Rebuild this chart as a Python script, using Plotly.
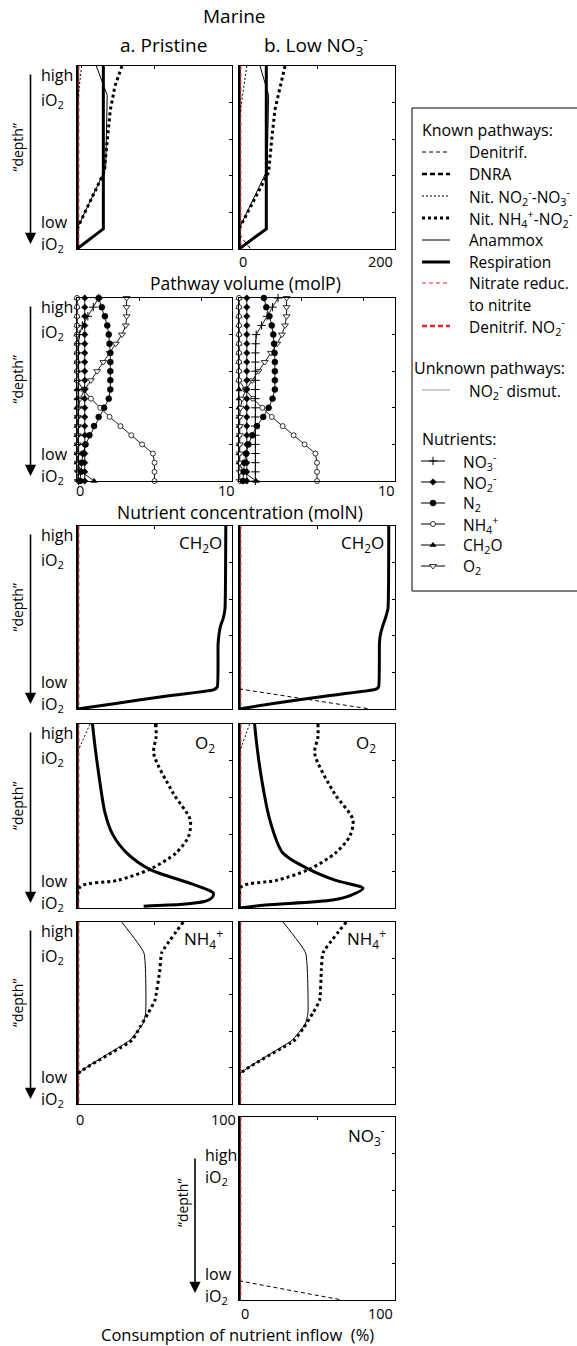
import plotly.graph_objects as go

W, H = 577, 1346

# ---------------- data ----------------
# depth coordinate: 0 = high iO2 (top), 1 = low iO2 (bottom)
# Row 1: pathway volume (molP)
r1a_resp_d = [0, 0.89, 1.0];                        r1a_resp_v = [34, 34, 0]
r1a_anam_d = [0, 0.16, 0.56, 0.89, 1.0];            r1a_anam_v = [25, 39, 37, 0, 0]
r1a_nh4no2_d = [0, 0.11, 0.24, 0.40, 0.58, 0.89, 1.0]; r1a_nh4no2_v = [58, 49, 43, 39, 35, 0, 0]
r1a_no2no3_d = [0, 0.22, 1.0];                      r1a_no2no3_v = [6, 0, 0]
r1b_resp_d = [0, 0.89, 1.0];                        r1b_resp_v = [35, 35, 0]
r1b_anam_d = [0, 0.16, 0.57, 0.89, 1.0];            r1b_anam_v = [27, 38, 36, 0, 0]
r1b_nh4no2_d = [0, 0.11, 0.24, 0.40, 0.58, 0.89, 1.0]; r1b_nh4no2_v = [59, 53, 46, 42, 38, 0, 0]
r1b_no2no3_d = [0, 0.20, 0.30, 1.0];                r1b_no2no3_v = [10, 3.5, 0, 0]
r1b_denit_d = [0.92, 1.0];                          r1b_denit_v = [0, 15]

# Row 2: nutrient concentration (molN)
nut_depth = [0, .05, .1, .15, .2, .25, .3, .35, .4, .45, .5, .55, .6, .65, .7, .75, .8, .85, .9, .95, 1]
no3_a = [1.4, 1.05, 0.7, 0.35, 0.15, 0.1, 0.1, 0.1, 0.1, 0.1, 0.1, 0.1, 0.1, 0.1, 0.1, 0.1, 0.1, 0.1, 0.1, 0.1, 0.1]
no2_a = [0.5] * 21
n2_a = [1.4, 1.6, 1.8, 1.95, 2.05, 2.1, 2.15, 2.15, 2.15, 2.15, 2.15, 2.05, 1.75, 1.4, 1.1, 0.8, 0.55, 0.4, 0.3, 0.25, 0.2]
nh4_a = [0, 0, 0, 0, 0, 0, 0, 0, 0, 0, 0.4, 0.9, 1.5, 2.1, 2.8, 3.5, 4.2, 4.9, 5.0, 5.0, 5.0]
ch2o_a = [0] * 19 + [0.3, 1.1]
o2_a = [3.2, 3.2, 3.2, 3.15, 2.9, 2.5, 2.1, 1.7, 1.3, 0.9, 0.5, 0.2, 0.1, 0.05, 0.05, 0.05, 0.05, 0.05, 0.05, 0.05, 0.05]
no3_b = [2.5, 2.15, 1.8, 1.45, 1.1, 1.07, 1.05, 1.05, 1.05, 1.05, 1.05, 1.05, 1.05, 1.05, 1.05, 1.05, 1.05, 1.05, 1.05, 1.05, 1.05]
no2_b = [0.5] * 21
n2_b = [1.6, 1.75, 1.95, 2.1, 2.2, 2.25, 2.28, 2.3, 2.3, 2.3, 2.3, 2.15, 1.9, 1.55, 1.15, 0.85, 0.6, 0.45, 0.35, 0.3, 0.25]
nh4_b = [0, 0, 0, 0, 0, 0, 0, 0, 0, 0, 0.4, 0.9, 1.5, 2.1, 2.8, 3.5, 4.2, 4.9, 5.0, 5.0, 5.0]
ch2o_b = [0] * 19 + [0.3, 1.1]
o2_b = [3.05, 3.05, 3.05, 2.95, 2.75, 2.45, 2.05, 1.65, 1.25, 0.85, 0.45, 0.2, 0.1, 0.05, 0.05, 0.05, 0.05, 0.05, 0.05, 0.05, 0.05]

# Row 3: CH2O consumption (%)
r3a_resp_d = [0, 0.45, 0.5, 0.55, 0.6, 0.65, 0.88, 0.895, 0.93, 0.97, 1.0]
r3a_resp_v = [96, 95.5, 94.5, 92.5, 91.5, 91, 90.5, 88, 57, 25, 0]
r3b_resp_d = [0, 0.45, 0.5, 0.55, 0.6, 0.65, 0.88, 0.893, 0.93, 0.97, 1.0]
r3b_resp_v = [96, 95.5, 94, 92, 90.5, 90, 89.5, 87.5, 55, 22, 0]
r3b_denit_d = [0.89, 1.0];  r3b_denit_v = [0, 84]

# Row 4: O2 consumption (%)
r4a_resp_d = [0, 0.12, 0.3, 0.48, 0.6, 0.7, 0.79, 0.86, 0.9, 0.92, 0.945, 0.965, 0.98, 0.99]
r4a_resp_v = [10, 11.6, 14.5, 18, 23, 32, 47, 71, 84, 88, 87, 82, 68, 43]
r4a_nh4no2_d = [0, 0.07, 0.16, 0.375, 0.52, 0.61, 0.70, 0.79, 0.85, 0.885, 1.0]
r4a_nh4no2_v = [51, 51, 49.5, 62, 73, 72, 64, 47, 26, 2, 0]
r4a_no2no3_d = [0, 0.16, 1.0];  r4a_no2no3_v = [8.4, 0, 0]
r4b_resp_d = [0, 0.12, 0.3, 0.52, 0.7, 0.79, 0.85, 0.893, 0.93, 0.957, 0.984, 1.0]
r4b_resp_v = [10, 11.5, 14.5, 19.7, 28, 45, 62, 79.5, 72, 60, 17, 0]
r4b_nh4no2_d = [0, 0.07, 0.16, 0.375, 0.52, 0.61, 0.70, 0.79, 0.85, 0.885, 1.0]
r4b_nh4no2_v = [50.6, 50.6, 48.5, 61, 73, 71, 62, 45, 24, 1.5, 0]
r4b_no2no3_d = [0, 0.16, 1.0];  r4b_no2no3_v = [6.8, 0, 0]

# Row 5: NH4+ consumption (%)
r5a_anam_d = [0, 0.17, 0.5, 0.56, 0.65, 0.84, 1.0];  r5a_anam_v = [28.8, 43.2, 44.3, 42.5, 34, 0, 0]
r5a_nh4no2_d = [0, 0.17, 0.26, 0.43, 0.5, 0.58, 0.65, 0.84, 1.0]
r5a_nh4no2_v = [68.6, 54.6, 53.5, 50.3, 46, 40.5, 35.5, 0, 0]
r5b_anam_d = [0, 0.17, 0.5, 0.56, 0.65, 0.84, 1.0];  r5b_anam_v = [28.2, 42.7, 44.2, 42.5, 34, 0, 0]
r5b_nh4no2_d = [0, 0.17, 0.26, 0.43, 0.5, 0.58, 0.65, 0.84, 1.0]
r5b_nh4no2_v = [68.8, 53.8, 52.8, 51.7, 47.4, 41.5, 35.5, 0, 0]

# Row 6: NO3- consumption (%)
r6b_denit_d = [0.895, 1.0];  r6b_denit_v = [0, 66]

# ---------------- layout geometry ----------------
COLS = {'a': (77, 232), 'b': (239, 395)}
ROWS = [(66, 249), (298, 481), (526, 709), (724, 908), (922, 1104), (1117, 1300)]
XMAX = [200, 10, 100, 100, 100, 100]
XTICKS = [[100], [4, 8], [50], [50], [50], [50]]
FONT = 'Open Sans'

fig = go.Figure()
layout = dict(width=W, height=H, margin=dict(l=0, r=0, t=0, b=0),
              paper_bgcolor='white', plot_bgcolor='rgba(0,0,0,0)',
              showlegend=False, font=dict(family=FONT, color='black'))

panels = [(0, 'a'), (0, 'b'), (1, 'a'), (1, 'b'), (2, 'a'), (2, 'b'),
          (3, 'a'), (3, 'b'), (4, 'a'), (4, 'b'), (5, 'b')]
ax_of = {}
for i, (r, c) in enumerate(panels, start=1):
    x0, x1 = COLS[c]
    t, b = ROWS[r]
    xn = 'x' if i == 1 else f'x{i}'
    yn = 'y' if i == 1 else f'y{i}'
    ax_of[(r, c)] = (xn, yn)
    xk = 'xaxis' if i == 1 else f'xaxis{i}'
    yk = 'yaxis' if i == 1 else f'yaxis{i}'
    layout[xk] = dict(domain=[x0 / W, x1 / W], range=[0, XMAX[r]], anchor=yn,
                      showline=True, mirror=True, linecolor='black', linewidth=1.3,
                      ticks='inside', ticklen=3, tickcolor='black', tickwidth=1,
                      tickvals=XTICKS[r], side='top', showticklabels=False,
                      showgrid=False, zeroline=False, fixedrange=True)
    layout[yk] = dict(domain=[1 - b / H, 1 - t / H], range=[1, 0], anchor=xn,
                      showline=True, mirror=True, linecolor='black', linewidth=1.3,
                      ticks='inside', ticklen=3, tickcolor='black', tickwidth=1,
                      tickvals=[0.2, 0.4, 0.6, 0.8], side='right', showticklabels=False,
                      showgrid=False, zeroline=False, fixedrange=True)

# overlay axis in pixel coordinates for decorations
layout['xaxis12'] = dict(domain=[0, 1], range=[0, W], visible=False, anchor='y12', fixedrange=True)
layout['yaxis12'] = dict(domain=[0, 1], range=[H, 0], visible=False, anchor='x12', fixedrange=True)


def line(r, c, d, v, width=1, dash='solid', color='black', shape='linear', smooth=0.6):
    xn, yn = ax_of[(r, c)]
    ln = dict(color=color, width=width, dash=dash, shape=shape)
    if shape == 'spline':
        ln['smoothing'] = smooth
    fig.add_trace(go.Scatter(x=v, y=d, xaxis=xn, yaxis=yn, mode='lines',
                             line=ln, hoverinfo='skip'))


STY = {
    'denit': dict(width=1, dash='4px,3px'),
    'dnra': dict(width=2.5, dash='5px,3px'),
    'no2no3': dict(width=1, dash='2px,2px'),
    'nh4no2': dict(width=3, dash='3px,3px'),
    'anam': dict(width=1, dash='solid'),
    'resp': dict(width=3, dash='solid'),
    'nitred': dict(width=1, dash='4px,3px', color='#e8232a'),
    'denitno2': dict(width=2.5, dash='5px,3px', color='#e8232a'),
    'dismut': dict(width=1, dash='solid', color='#999999'),
}

# zero lines (pathways that are zero) on every line panel
for (r, c) in panels:
    if r == 1:
        continue
    xm = XMAX[r]
    line(r, c, [0, 1], [0, 0], width=3.5)
    line(r, c, [0, 1], [xm * 0.012, xm * 0.012], **STY['nitred'])

# Row 1
line(0, 'a', r1a_no2no3_d, r1a_no2no3_v, **STY['no2no3'])
line(0, 'a', r1a_nh4no2_d, r1a_nh4no2_v, **STY['nh4no2'])
line(0, 'a', r1a_anam_d, r1a_anam_v, **STY['anam'])
line(0, 'a', r1a_resp_d, r1a_resp_v, **STY['resp'])
line(0, 'b', r1b_no2no3_d, r1b_no2no3_v, **STY['no2no3'])
line(0, 'b', r1b_nh4no2_d, r1b_nh4no2_v, **STY['nh4no2'])
line(0, 'b', r1b_anam_d, r1b_anam_v, **STY['anam'])
line(0, 'b', r1b_resp_d, r1b_resp_v, **STY['resp'])
line(0, 'b', r1b_denit_d, r1b_denit_v, **STY['denit'])

# Row 2 nutrients
MK = {
    'no3': dict(symbol='cross-thin', size=6, color='black', line=dict(width=1, color='black')),
    'no2': dict(symbol='diamond', size=5, color='black', line=dict(width=0.5, color='black')),
    'n2': dict(symbol='circle', size=6, color='black', line=dict(width=0.5, color='black')),
    'nh4': dict(symbol='circle', size=5, color='white', line=dict(width=0.8, color='black')),
    'ch2o': dict(symbol='triangle-up', size=5.5, color='black', line=dict(width=0.5, color='black')),
    'o2': dict(symbol='triangle-down', size=6, color='white', line=dict(width=0.8, color='black')),
}


def nut(c, vals, key):
    xn, yn = ax_of[(1, c)]
    fig.add_trace(go.Scatter(x=vals, y=nut_depth, xaxis=xn, yaxis=yn, mode='lines+markers',
                             line=dict(color='black', width=0.9), marker=MK[key],
                             cliponaxis=False, hoverinfo='skip'))


for c, series in (('a', [(ch2o_a, 'ch2o'), (nh4_a, 'nh4'), (o2_a, 'o2'), (no3_a, 'no3'), (no2_a, 'no2'), (n2_a, 'n2')]),
                  ('b', [(ch2o_b, 'ch2o'), (nh4_b, 'nh4'), (o2_b, 'o2'), (no3_b, 'no3'), (no2_b, 'no2'), (n2_b, 'n2')])):
    for vals, key in series:
        nut(c, vals, key)

# Row 3
line(2, 'a', r3a_resp_d, r3a_resp_v, shape='spline', smooth=0.4, **STY['resp'])
line(2, 'b', r3b_denit_d, r3b_denit_v, **STY['denit'])
line(2, 'b', r3b_resp_d, r3b_resp_v, shape='spline', smooth=0.4, **STY['resp'])
# Row 4
line(3, 'a', r4a_no2no3_d, r4a_no2no3_v, **STY['no2no3'])
line(3, 'a', r4a_nh4no2_d, r4a_nh4no2_v, shape='spline', smooth=0.8, **STY['nh4no2'])
line(3, 'a', r4a_resp_d, r4a_resp_v, shape='spline', smooth=0.8, **STY['resp'])
line(3, 'b', r4b_no2no3_d, r4b_no2no3_v, **STY['no2no3'])
line(3, 'b', r4b_nh4no2_d, r4b_nh4no2_v, shape='spline', smooth=0.8, **STY['nh4no2'])
line(3, 'b', r4b_resp_d, r4b_resp_v, shape='spline', smooth=0.8, **STY['resp'])
# Row 5
line(4, 'a', r5a_nh4no2_d, r5a_nh4no2_v, shape='spline', smooth=0.4, **STY['nh4no2'])
line(4, 'a', r5a_anam_d, r5a_anam_v, shape='spline', smooth=0.4, **STY['anam'])
line(4, 'b', r5b_nh4no2_d, r5b_nh4no2_v, shape='spline', smooth=0.4, **STY['nh4no2'])
line(4, 'b', r5b_anam_d, r5b_anam_v, shape='spline', smooth=0.4, **STY['anam'])
# Row 6
line(5, 'b', r6b_denit_d, r6b_denit_v, **STY['denit'])

# ---------------- annotations / decorations ----------------
ann = []
shapes = []


def txt(x, y, s, size=16, xanchor='center', yanchor='middle', angle=0):
    ann.append(dict(x=x, y=y, xref='x12', yref='y12', text=s, showarrow=False,
                    xanchor=xanchor, yanchor=yanchor, textangle=angle,
                    font=dict(family=FONT, size=size, color='black')))


def arrow(x, y0, y1):
    ann.append(dict(x=x, y=y1, ax=x, ay=y0, xref='x12', yref='y12', axref='x12', ayref='y12',
                    text='', showarrow=True, arrowhead=2, arrowsize=1.4, arrowwidth=1.6,
                    arrowcolor='black'))


txt(234, 16, 'Marine', size=19)
txt(163, 45, 'a. Pristine', size=19)
txt(316, 45, 'b. Low NO<sub>3</sub><sup>-</sup>', size=19)

LBL = 16
for r, (t, b) in enumerate(ROWS):
    if r < 5:
        lx, ax_x, dx = 39, 30.5, 17
        ht, it, lt, bt = t + 9, t + 34, b - 27, b - 5
        a0, a1 = t + 7, b - 5
        dy = (t + b) / 2 - 10
    else:
        lx, ax_x, dx = 203, 195, 182
        ht, it, lt, bt = t + 38, t + 60, b - 26, b - 4
        a0, a1 = t + 40, b - 7
        dy = 1203
    txt(lx, ht, 'high', size=LBL, xanchor='left')
    txt(lx, it, 'iO<sub>2</sub>', size=LBL, xanchor='left')
    txt(lx, lt, 'low', size=LBL, xanchor='left')
    txt(lx, bt, 'iO<sub>2</sub>', size=LBL, xanchor='left')
    arrow(ax_x, a0, a1)
    txt(dx, dy, '\u201cdepth\u201d', size=14, angle=-90)

# tick labels and axis titles
TK = 14.5
txt(243, 261, '0', size=TK)
txt(380, 261, '200', size=TK)
txt(245, 283, 'Pathway volume (molP)', size=17.5)
txt(80, 490, '0', size=TK)
txt(226, 490, '10', size=TK)
txt(386, 490, '10', size=TK)
txt(240, 512, 'Nutrient concentration (molN)', size=17.5)
txt(80, 1119, '0', size=TK)
txt(223, 1119, '100', size=TK)
txt(245, 1313, '0', size=TK)
txt(380, 1313, '100', size=TK)
txt(237, 1334, 'Consumption of nutrient inflow  (%)', size=16.5)

# panel labels
PL = 17
for x in (200, 362):
    txt(x, ROWS[2][0] + 17, 'CH<sub>2</sub>O', size=PL)
for x in (205, 366):
    txt(x, ROWS[3][0] + 19, 'O<sub>2</sub>', size=PL)
for x in (203, 366):
    txt(x, ROWS[4][0] + 16, 'NH<sub>4</sub><sup>+</sup>', size=PL)
txt(366, ROWS[5][0] + 18, 'NO<sub>3</sub><sup>-</sup>', size=PL)

# legend box
shapes.append(dict(type='rect', xref='x12', yref='y12', x0=412, x1=600, y0=108, y1=591,
                   line=dict(color='black', width=1), fillcolor='rgba(0,0,0,0)'))
LG = 15.5
lx0, lx1, tx = 422, 450, 467
txt(420, 130, 'Known pathways:', size=LG + 0.5, xanchor='left')
leg_items = [
    (152, 'denit', 'Denitrif.'),
    (174, 'dnra', 'DNRA'),
    (196, 'no2no3', 'Nit. NO<sub>2</sub><sup>-</sup>-NO<sub>3</sub><sup>-</sup>'),
    (218, 'nh4no2', 'Nit. NH<sub>4</sub><sup>+</sup>-NO<sub>2</sub><sup>-</sup>'),
    (240, 'anam', 'Anammox'),
    (262, 'resp', 'Respiration'),
    (283, 'nitred', 'Nitrate reduc.'),
    (326, 'denitno2', 'Denitrif. NO<sub>2</sub><sup>-</sup>'),
]
for y, key, label in leg_items:
    st = STY[key]
    fig.add_trace(go.Scatter(x=[lx0, lx1], y=[y, y], xaxis='x12', yaxis='y12', mode='lines',
                             line=dict(color=st.get('color', 'black'), width=st['width'], dash=st['dash']),
                             hoverinfo='skip'))
    txt(tx, y, label, size=LG, xanchor='left')
txt(tx, 305, 'to nitrite', size=LG, xanchor='left')
txt(412, 368, 'Unknown pathways:', size=LG + 0.5, xanchor='left')
fig.add_trace(go.Scatter(x=[lx0, lx1], y=[390, 390], xaxis='x12', yaxis='y12', mode='lines',
                         line=dict(color='#999999', width=1), hoverinfo='skip'))
txt(tx, 390, 'NO<sub>2</sub><sup>-</sup> dismut.', size=LG, xanchor='left')

txt(420, 439, 'Nutrients:', size=LG + 0.5, xanchor='left')
nut_leg = [(461, 'no3', 'NO<sub>3</sub><sup>-</sup>'), (482, 'no2', 'NO<sub>2</sub><sup>-</sup>'),
           (503, 'n2', 'N<sub>2</sub>'), (524, 'nh4', 'NH<sub>4</sub><sup>+</sup>'),
           (545, 'ch2o', 'CH<sub>2</sub>O'), (566, 'o2', 'O<sub>2</sub>')]
for y, key, label in nut_leg:
    fig.add_trace(go.Scatter(x=[421, 445], y=[y, y], xaxis='x12', yaxis='y12', mode='lines',
                             line=dict(color='black', width=1), hoverinfo='skip'))
    fig.add_trace(go.Scatter(x=[433], y=[y], xaxis='x12', yaxis='y12', mode='markers',
                             marker=MK[key], hoverinfo='skip'))
    txt(461, y, label, size=LG, xanchor='left')

layout['annotations'] = ann
layout['shapes'] = shapes
fig.update_layout(**layout)
fig.write_html('out.html')
